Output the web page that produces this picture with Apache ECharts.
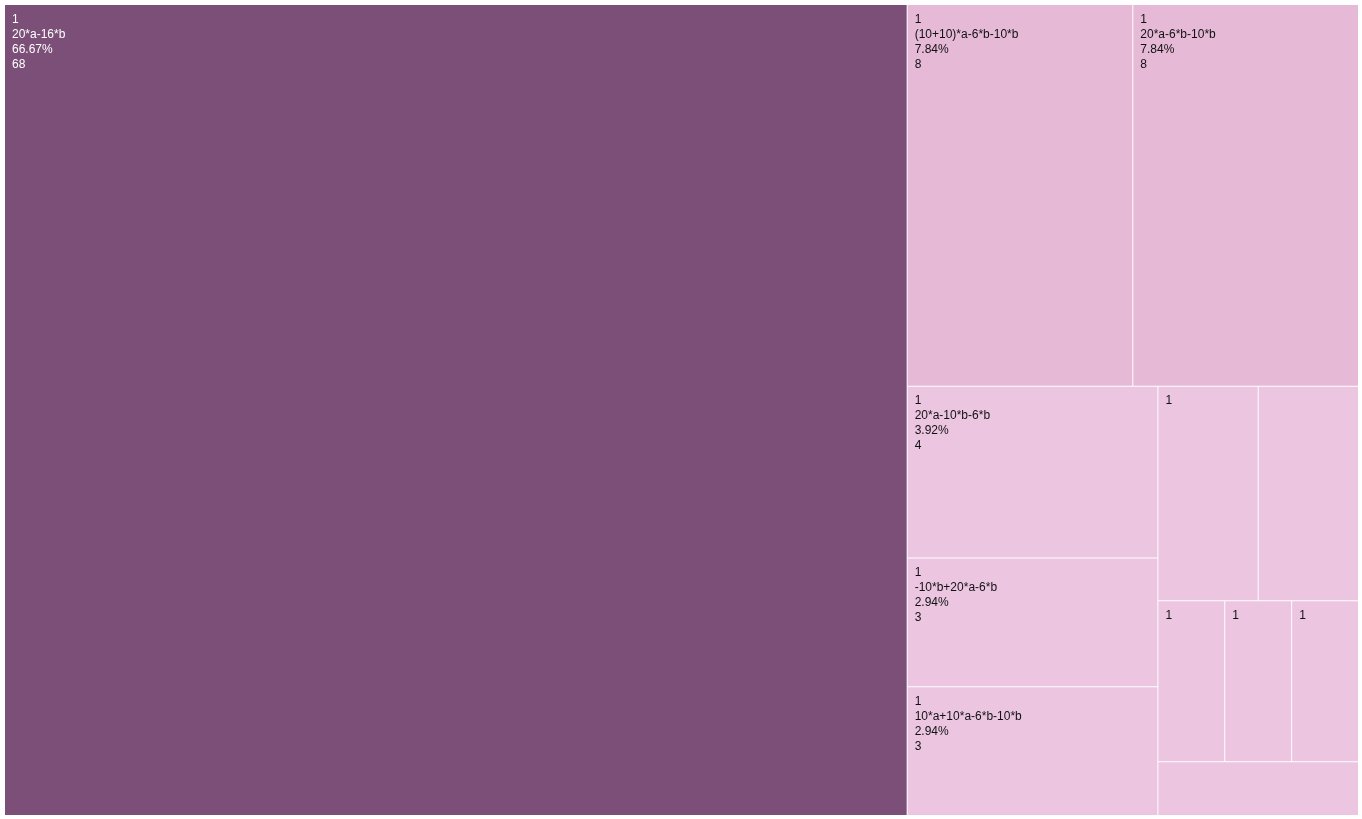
<!DOCTYPE html>
<html>
<head>
<meta charset="utf-8">
<script src="https://cdn.jsdelivr.net/npm/echarts@6/dist/echarts.min.js"></script>
<style>html,body{margin:0;padding:0;background:#fff;}#c{width:1362px;height:819px;}</style>
</head>
<body>
<div id="c"></div>
<script>
const groupLabels = ['1','1','1','1','1','1','1','1','1','1','1','1'];
const names = ['20*a-16*b','(10+10)*a-6*b-10*b','20*a-6*b-10*b','20*a-10*b-6*b','-10*b+20*a-6*b','10*a+10*a-6*b-10*b','','','','','',''];
const values = [68, 8, 8, 4, 3, 3, 2, 2, 1, 1, 1, 1];
const showLabel = [true, true, true, true, true, true, true, false, true, true, true, false];
const showDetail = [true, true, true, true, true, true, false, false, false, false, false, false];
const colors = ['#7b4f78', '#e6b9d7', '#e6b9d7', '#ecc5e1', '#ecc5e1', '#ecc5e1', '#ecc5e1', '#ecc5e1', '#ecc5e1', '#ecc5e1', '#ecc5e1', '#ecc5e1'];
const textColors = ['#ffffff', '#111111', '#111111', '#111111', '#111111', '#111111', '#111111', '#111111', '#111111', '#111111', '#111111', '#111111'];

const total = values.reduce((a, b) => a + b, 0);
const data = values.map((v, i) => ({
  name: names[i] || ('item' + i),
  value: v,
  itemStyle: { color: colors[i] },
  label: {
    show: showLabel[i],
    color: textColors[i],
    formatter: function () {
      if (!showDetail[i]) return groupLabels[i];
      return [groupLabels[i], names[i], (v / total * 100).toFixed(2) + '%', String(v)].join('\n');
    }
  }
}));

const chart = echarts.init(document.getElementById('c'));
chart.setOption({
  animation: false,
  series: [{
    type: 'treemap',
    left: 5, top: 5, width: 1353, height: 810,
    roam: false,
    nodeClick: false,
    sort: false,
    breadcrumb: { show: false },
    itemStyle: { borderColor: '#ffffff', borderWidth: 0, gapWidth: 1 },
    label: {
      show: true,
      position: 'insideTopLeft',
      fontFamily: 'Liberation Sans, Arial, sans-serif',
      fontSize: 12,
      lineHeight: 15,
      padding: [7, 7, 6, 7]
    },
    data: data
  }]
});
</script>
</body>
</html>
